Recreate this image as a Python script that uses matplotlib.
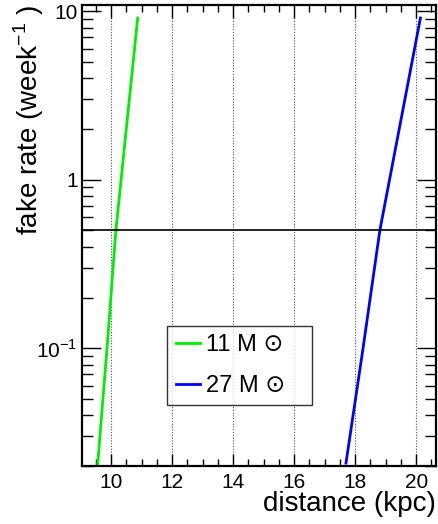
import numpy as np
import matplotlib
matplotlib.use("Agg")
import matplotlib.pyplot as plt
from matplotlib.ticker import FixedLocator, LogLocator, NullFormatter, MultipleLocator

plt.rcParams['font.family'] = ['Liberation Sans', 'DejaVu Sans']
plt.rcParams['mathtext.fontset'] = 'custom'
plt.rcParams['mathtext.rm'] = 'Liberation Sans'

# fake rate vs distance
dist_11 = [9.56, 9.87, 10.16, 10.875]
rate_11 = [0.0201, 0.1, 0.5, 9.12]
dist_27 = [17.70, 18.26, 18.81, 20.14]
rate_27 = [0.0208, 0.1, 0.5, 9.12]
threshold = 0.5
labels = ["11 M \u2299", "27 M \u2299"]

fig = plt.figure(figsize=(4.38, 5.24), dpi=100)
ax = fig.add_axes([0.1872, 0.1107, 0.8082, 0.8798])

ax.plot(dist_11, rate_11, color='#00ee00', lw=2, label=labels[0])
ax.plot(dist_27, rate_27, color='#0000ff', lw=2, label=labels[1])
ax.axhline(threshold, color='black', lw=1.2)

ax.set_yscale('log')
ax.set_xlim(9.05, 20.65)
ax.set_ylim(0.02, 10.9)

ax.xaxis.set_major_locator(MultipleLocator(2))
ax.xaxis.set_minor_locator(MultipleLocator(0.5))
ax.yaxis.set_major_locator(FixedLocator([0.1, 1, 10]))
ax.yaxis.set_minor_locator(LogLocator(base=10, subs=np.arange(2, 10)))
ax.yaxis.set_minor_formatter(NullFormatter())
ax.set_yticklabels(["10$^{-1}$", "1", "10"])

ax.grid(True, axis='x', which='major', linestyle=(0, (1, 1.5)), color='#555555', lw=0.8)

ax.tick_params(which='both', direction='in', top=True, right=True, labelsize=15, width=1)
ax.tick_params(axis='x', which='major', length=9, pad=5)
ax.tick_params(axis='x', which='minor', length=5)
ax.tick_params(axis='y', which='major', length=14, pad=3)
ax.tick_params(axis='y', which='minor', length=8)
for s in ax.spines.values():
    s.set_linewidth(1.6)

ax.set_xlabel("distance (kpc)", fontsize=20, loc='right', labelpad=-1)
ax.set_ylabel("fake rate (week$^{-1}$ )", fontsize=20, loc='top', labelpad=-7)

leg = ax.legend(loc='lower left', bbox_to_anchor=(0.241, 0.132, 0.41, 0.18), mode='expand',
                fontsize=17, frameon=True, fancybox=False, edgecolor='black',
                handlelength=1.05, handletextpad=0.25, labelspacing=0.8, borderpad=0.35,
                borderaxespad=0)
leg.get_frame().set_linewidth(1.0)

fig.savefig("out.png", dpi=100)
